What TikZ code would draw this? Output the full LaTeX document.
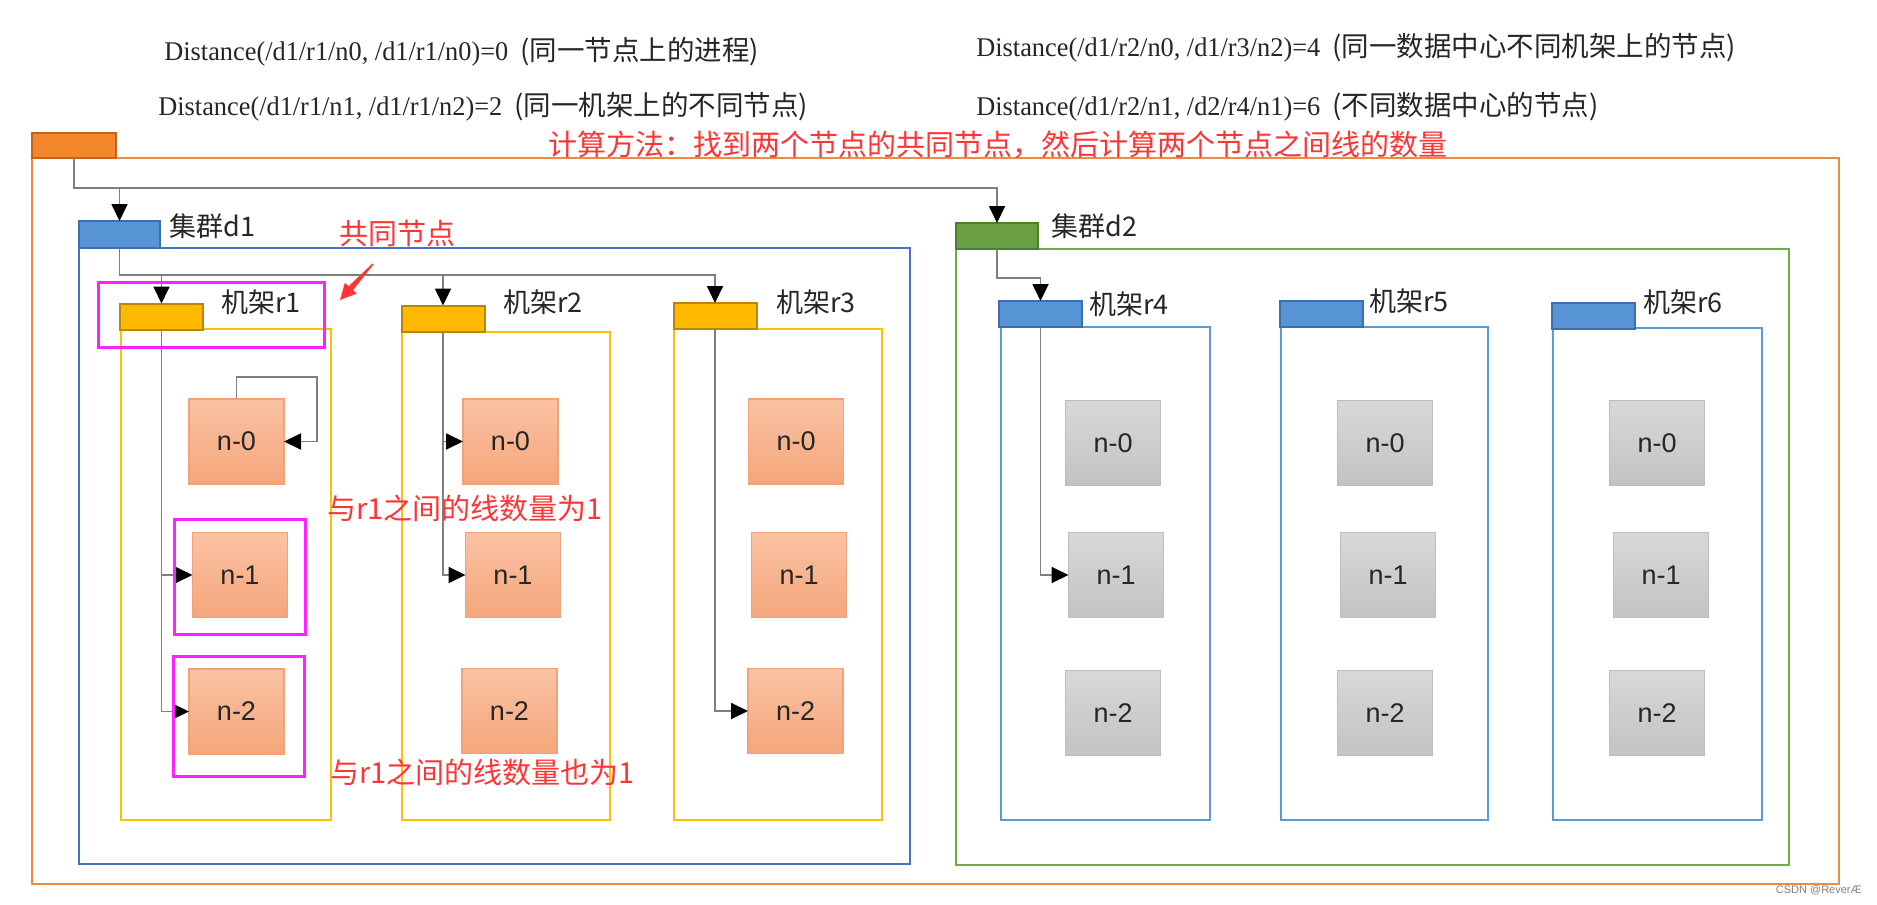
\documentclass[tikz,border=0pt]{standalone}
\usepackage{fontspec}
\setmainfont{Liberation Sans}
\newfontfamily\cjk{Noto Sans CJK SC}
\newfontfamily\tnr{Liberation Serif}
\usetikzlibrary{arrows.meta,calc}
\newcommand{\latinpart}[1]{\scalebox{0.975}[1]{\tnr\fontsize{13.5}{16}\selectfont #1}}
\definecolor{ortab}{HTML}{F4862C}
\definecolor{ortabd}{HTML}{C4641C}
\definecolor{orline}{HTML}{F08B3E}
\definecolor{bltab}{HTML}{5694D6}
\definecolor{bltabd}{HTML}{3E6EAE}
\definecolor{d1line}{HTML}{4472C4}
\definecolor{grtab}{HTML}{6AA043}
\definecolor{grtabd}{HTML}{4F7D2E}
\definecolor{grline}{HTML}{70AD47}
\definecolor{yltab}{HTML}{FFBA00}
\definecolor{yltabd}{HTML}{B8860B}
\definecolor{ylline}{HTML}{FFC000}
\definecolor{rkblue}{HTML}{5B9BD5}
\definecolor{ndtop}{HTML}{FAC2A4}
\definecolor{ndbot}{HTML}{F5A67B}
\definecolor{nddraw}{HTML}{F0A27C}
\definecolor{gytop}{HTML}{D8D8D8}
\definecolor{gybot}{HTML}{C3C3C3}
\definecolor{gydraw}{HTML}{BDBDBD}
\definecolor{connc}{HTML}{7F7F7F}
\definecolor{magbox}{HTML}{FF22FF}
\definecolor{redtxt}{HTML}{FF3535}
\definecolor{lbl}{HTML}{262626}
\begin{document}
\begin{tikzpicture}[x=0.5pt,y=-0.5pt,
  tabbox/.style 2 args={draw=#2, fill=#1, line width=1pt, inner sep=0pt, outer sep=0pt, minimum width=41.5pt, minimum height=13pt},
  nodeo/.style={draw=nddraw, top color=ndtop, bottom color=ndbot, line width=0.6pt, minimum width=47.5pt, minimum height=42.5pt, inner sep=0pt, outer sep=0pt, font=\fontsize{13.5}{16}\selectfont, text=lbl},
  nodeg/.style={draw=gydraw, top color=gytop, bottom color=gybot, line width=0.6pt, minimum width=47.5pt, minimum height=42.5pt, inner sep=0pt, outer sep=0pt, font=\fontsize{13.5}{16}\selectfont, text=lbl},
  conn/.style={draw=connc, line width=0.9pt, -{Triangle[length=8.5pt,width=8pt,color=black]}},
  lab/.style={anchor=west, inner sep=0pt, font=\cjk\fontsize{13.5}{16}\selectfont, text=lbl},
  hl/.style={draw=magbox, line width=1.5pt},
  redt/.style={anchor=west, inner sep=0pt, text=redtxt, font=\cjk\fontsize{14.5}{17}\selectfont},
  dist/.style={anchor=west, inner sep=0pt, text=lbl, font=\cjk\fontsize{13.75}{16}\selectfont}
]
\useasboundingbox (0,0) rectangle (1877,904);
\fill[white] (0,0) rectangle (1877,904);

% containers
\draw[orline, line width=1pt] (32,158) rectangle (1839,884);
\draw[d1line, line width=1.2pt] (79,248) rectangle (910,864);
\draw[grline, line width=1.2pt] (956,249) rectangle (1789,865);
\draw[ylline, line width=1.4pt] (121,329) rectangle (331,820);
\draw[ylline, line width=1.4pt] (402,332) rectangle (610,820);
\draw[ylline, line width=1.4pt] (674,329) rectangle (882,820);
\draw[rkblue, line width=1.1pt] (1001,327) rectangle (1210,820);
\draw[rkblue, line width=1.1pt] (1281,327) rectangle (1488,820);
\draw[rkblue, line width=1.1pt] (1553,328) rectangle (1762,820);

% tabs
\node[tabbox={ortab}{ortabd}, minimum width=42pt, minimum height=12.5pt] (otab) at (74,145.5) {};
\node[tabbox={bltab}{bltabd}, minimum width=40.5pt, minimum height=13.5pt] (d1tab) at (119.5,234.5) {};
\node[tabbox={grtab}{grtabd}, minimum width=41pt, minimum height=13pt] (d2tab) at (997,236) {};
\node[tabbox={yltab}{yltabd}] (r1tab) at (161.5,316.5) {};
\node[tabbox={yltab}{yltabd}] (r2tab) at (443,318.5) {};
\node[tabbox={yltab}{yltabd}] (r3tab) at (715,316) {};
\node[tabbox={bltab}{bltabd}] (r4tab) at (1040.5,314) {};
\node[tabbox={bltab}{bltabd}] (r5tab) at (1321.5,314) {};
\node[tabbox={bltab}{bltabd}] (r6tab) at (1593.5,315.5) {};

% tab labels
\node[lab] (d1lab) at (169,226) {集群d1};
\node[lab] (d2lab) at (1051,226) {集群d2};
\node[lab] (r1lab) at (221,302) {机架r1};
\node[lab] (r2lab) at (503,302) {机架r2};
\node[lab] (r3lab) at (776,302) {机架r3};
\node[lab] (r4lab) at (1089,304) {机架r4};
\node[lab] (r5lab) at (1369,301) {机架r5};
\node[lab] (r6lab) at (1643,302) {机架r6};

% nodes
\node[nodeo] (r1n0) at (236.5,441.5) {n-0};
\node[nodeo] (r1n1) at (240,575) {n-1};
\node[nodeo] (r1n2) at (236.5,711.5) {n-2};
\node[nodeo] (r2n0) at (510.5,441.5) {n-0};
\node[nodeo] (r2n1) at (513,575) {n-1};
\node[nodeo] (r2n2) at (509.5,711) {n-2};
\node[nodeo] (r3n0) at (796,441.5) {n-0};
\node[nodeo] (r3n1) at (799,575) {n-1};
\node[nodeo] (r3n2) at (795.5,711) {n-2};
\node[nodeg] (r4n0) at (1113,443) {n-0};
\node[nodeg] (r4n1) at (1116,575) {n-1};
\node[nodeg] (r4n2) at (1113,713) {n-2};
\node[nodeg] (r5n0) at (1385,443) {n-0};
\node[nodeg] (r5n1) at (1388,575) {n-1};
\node[nodeg] (r5n2) at (1385,713) {n-2};
\node[nodeg] (r6n0) at (1657,443) {n-0};
\node[nodeg] (r6n1) at (1661,575) {n-1};
\node[nodeg] (r6n2) at (1657,713) {n-2};

% connectors
\coordinate (orow) at (0,188);
\coordinate (d1row) at (0,275);
\coordinate (d2row) at (0,278);
\coordinate (loopc) at (317,377);
\draw[conn] (otab.south) -- (otab.south |- orow) -| (d2tab.north);
\draw[conn] (orow -| d1tab.north) -- (d1tab.north);
\draw[conn] (d1tab.south) -- (d1tab.south |- d1row) -| (r3tab.north);
\draw[conn] (d1row -| r1tab.north) -- (r1tab.north);
\draw[conn] (d1row -| r2tab.north) -- (r2tab.north);
\draw[conn] (d2tab.south) -- (d2tab.south |- d2row) -| (r4tab.north);
\draw[conn] (r1tab.south) |- (r1n2.west);
\draw[conn] (r1tab.south |- r1n1.west) -- (r1n1.west);
\draw[conn] (r1n0.north) |- (loopc) |- (r1n0.east);
\draw[conn] (r2tab.south) |- (r2n1.west);
\draw[conn] (r2tab.south |- r2n0.west) -- (r2n0.west);
\draw[conn] (r3tab.south) |- (r3n2.west);
\draw[conn] (r4tab.south) |- (r4n1.west);

% highlight boxes
\draw[hl] (98,282) rectangle (324,347);
\draw[hl] (174,519) rectangle (305,634);
\draw[hl] (173,656) rectangle (304,776);

% red annotations
\node[redt] (method) at (548,145) {计算方法：找到两个节点的共同节点，然后计算两个节点之间线的数量};
\node[redt] (common) at (339,234) {共同节点};
\node[redt] (note1) at (327,508) {与r1之间的线数量为1};
\node[redt] (note2) at (330,772) {与r1之间的线数量也为1};
\fill[redtxt] (340,300) -- (356.7,293.6) -- (353,290.2) -- (373.5,264.5) -- (372.5,263.5) -- (348.6,286.2) -- (344.9,282.8) -- cycle;

% distance formulas
\node[dist] (f1) at (164,52) {\latinpart{Distance(/d1/r1/n0, /d1/r1/n0)=0}\hspace{6pt}(同一节点上的进程)};
\node[dist] (f2) at (158,107) {\latinpart{Distance(/d1/r1/n1, /d1/r1/n2)=2}\hspace{6pt}(同一机架上的不同节点)};
\node[dist] (f3) at (976,48) {\latinpart{Distance(/d1/r2/n0, /d1/r3/n2)=4}\hspace{6pt}(同一数据中心不同机架上的节点)};
\node[dist] (f4) at (976,107) {\latinpart{Distance(/d1/r2/n1, /d2/r4/n1)=6}\hspace{6pt}(不同数据中心的节点)};

% watermark
\node[anchor=east, inner sep=0pt, text=gray, font=\fontsize{5.5}{6}\selectfont] (wm) at (1862,890) {CSDN @ReverÆ};
\end{tikzpicture}
\end{document}
